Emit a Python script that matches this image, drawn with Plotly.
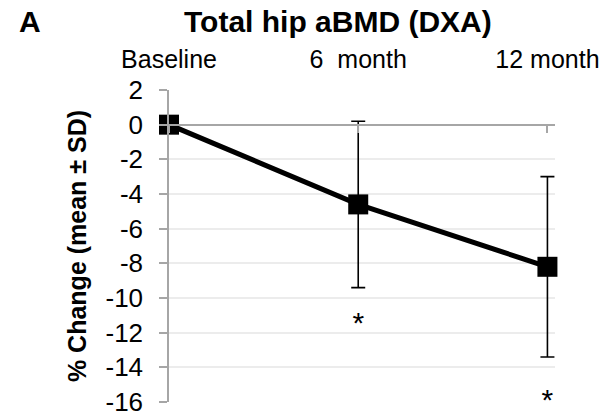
import plotly.graph_objects as go

# ---- data ----
categories = ["Baseline", "6  month", "12 month"]
mean_change = [0.0, -4.6, -8.2]
sd_change = [0.0, 4.8, 5.2]
star_categories = ["6  month", "12 month"]
star_y = [-11.6, -16.0]
y_ticks = list(range(-16, 3, 2))
y_tick_labels = [str(v) for v in y_ticks]

x_idx = list(range(len(categories)))
star_idx = [categories.index(c) for c in star_categories]

FONT = "Liberation Sans, Arial, sans-serif"
AXIS_GRAY = "#a6a6a6"
GRID_GRAY = "#ececec"
X_RANGE = [0, len(categories) - 1 + 0.04]

fig = go.Figure()

fig.add_trace(go.Scatter(
    x=x_idx, y=mean_change,
    mode="lines+markers",
    line=dict(color="black", width=5),
    marker=dict(symbol="square", size=20, color="black"),
    error_y=dict(type="data", array=sd_change, visible=True,
                 color="black", thickness=1.6, width=7),
    cliponaxis=False,
    showlegend=False,
    xaxis="x", yaxis="y",
))

fig.add_trace(go.Scatter(
    x=star_idx, y=star_y,
    mode="text", text=["*"] * len(star_idx),
    textfont=dict(family=FONT, size=30, color="black"),
    cliponaxis=False,
    showlegend=False,
    xaxis="x2", yaxis="y",
))

y0_pos = (0 - y_ticks[0]) / (y_ticks[-1] - y_ticks[0])

fig.update_layout(
    width=602, height=416,
    margin=dict(l=169, r=47, t=90, b=14, autoexpand=False),
    paper_bgcolor="white", plot_bgcolor="white",
    font=dict(family=FONT, color="black"),
    xaxis=dict(
        range=X_RANGE, automargin=False,
        side="top",
        tickvals=x_idx, ticktext=categories,
        tickfont=dict(size=25, family=FONT),
        ticks="outside", ticklen=11, tickcolor="rgba(0,0,0,0)",
        ticklabeloverflow="allow",
        showline=False, showgrid=False, zeroline=False,
    ),
    xaxis2=dict(
        range=X_RANGE, automargin=False,
        overlaying="x", anchor="free", position=y0_pos, side="bottom",
        tickvals=x_idx, showticklabels=False,
        ticks="outside", ticklen=8, tickwidth=1.5, tickcolor=AXIS_GRAY,
        showline=True, linecolor=AXIS_GRAY, linewidth=1.5,
        showgrid=False, zeroline=False,
    ),
    yaxis=dict(
        range=[y_ticks[0], y_ticks[-1]], automargin=False,
        tickvals=y_ticks, ticktext=y_tick_labels,
        tickfont=dict(size=26, family=FONT),
        ticks="outside", ticklen=8, tickwidth=1.5, tickcolor=AXIS_GRAY,
        ticklabelstandoff=11, ticklabeloverflow="allow",
        showline=True, linecolor=AXIS_GRAY, linewidth=1.5,
        showgrid=True, gridcolor=GRID_GRAY, gridwidth=1.5,
        zeroline=False,
        title=dict(text="% Change (mean ± SD)",
                   font=dict(size=25, family=FONT, weight="bold"),
                   standoff=12),
    ),
    annotations=[
        dict(text="Total hip aBMD (DXA)", xref="paper", yref="paper",
             x=(337.5 - 169) / 386, y=1.218, xanchor="center", yanchor="middle",
             showarrow=False, font=dict(size=30, family=FONT, weight="bold")),
        dict(text="A", xref="paper", yref="paper",
             x=(30 - 169) / 386, y=1.218, xanchor="center", yanchor="middle",
             showarrow=False, font=dict(size=30, family=FONT, weight="bold")),
    ],
)

fig.write_html("out.html")
